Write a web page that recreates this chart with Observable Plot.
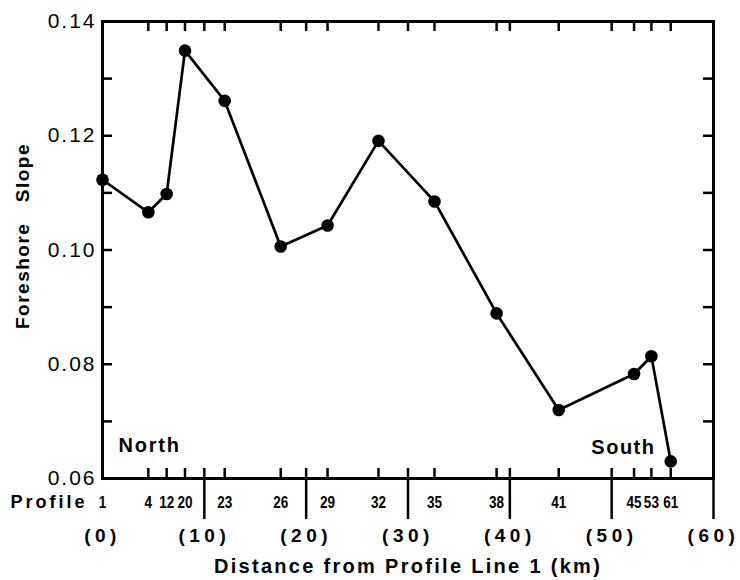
<!DOCTYPE html>
<html><head><meta charset="utf-8">
<script src="https://cdn.jsdelivr.net/npm/d3@7"></script>
<script src="https://cdn.jsdelivr.net/npm/@observablehq/plot@0.6"></script>
<style>
body{margin:0;background:#fff}
</style></head><body><div id="chart"></div>
<script>
// Data
const profiles = ["1","4","12","20","23","26","29","32","35","38","41","45","53","61"];
const distanceKm = [0,4.5,6.3,8.1,12.0,17.5,22.1,27.1,32.6,38.7,44.8,52.2,53.9,55.8];
const slope = [0.1123,0.1066,0.1098,0.1349,0.1261,0.1006,0.1043,0.1191,0.1085,0.0889,0.0720,0.0783,0.0814,0.0630];
const yLabelTicks = [0.06,0.08,0.10,0.12,0.14];
const yMinorTicks = [0.07,0.08,0.09,0.10,0.11,0.12,0.13];
const kmTicks = [0,10,20,30,40,50,60];
const kmLabels = ["(0)","(10)","(20)","(30)","(40)","(50)","(60)"];

const data = profiles.map((p,i)=>({profile:p, km:distanceKm[i], slope:slope[i]}));

const W=740,H=580,ML=102,MR=27,MT=21,MB=102;
const innerW=W-ML-MR, innerH=H-MT-MB, tickLen=10;
const insideX = [...distanceKm.slice(1), ...kmTicks.slice(1,6)];
const BOLD = "'Liberation Sans',Arial,sans-serif";
const REG = "'Liberation Sans','DejaVu Sans',sans-serif";

const chart = Plot.plot({
  width:W, height:H, marginLeft:ML, marginRight:MR, marginTop:MT, marginBottom:MB,
  x:{domain:[0,60], axis:null},
  y:{domain:[0.06,0.14], axis:null},
  style:{fontFamily:BOLD, color:"black", background:"white", overflow:"visible"},
  marks:[
    Plot.tickY(yMinorTicks,{y:d=>d, insetRight:innerW-tickLen, strokeWidth:2.5}),
    Plot.tickY(yMinorTicks,{y:d=>d, insetLeft:innerW-tickLen, strokeWidth:2.5}),
    Plot.tickX(insideX,{x:d=>d, insetTop:innerH-tickLen, strokeWidth:2.5}),
    Plot.tickX(insideX,{x:d=>d, insetBottom:innerH-tickLen, strokeWidth:2.5}),
    Plot.tickX(kmTicks.slice(1),{x:d=>d, insetTop:innerH, insetBottom:-41, strokeWidth:2.5}),
    Plot.frame({stroke:"black", strokeWidth:3}),
    Plot.line(data,{x:"km", y:"slope", stroke:"black", strokeWidth:2.7}),
    Plot.dot(data,{x:"km", y:"slope", r:6.3, fill:"black"}),
    // y tick labels
    Plot.text(yLabelTicks,{y:d=>d, text:d=>d3.format(".2f")(d), frameAnchor:"left", textAnchor:"end", lineAnchor:"middle", dx:-6, fontSize:21, fontFamily:REG}),
    // profile labels
    Plot.text(data,{x:"km", text:"profile", frameAnchor:"bottom", lineAnchor:"middle", dy:24, fontSize:16.5, fontWeight:"bold"}),
    Plot.text(["Profile"],{frameAnchor:"bottom-left", textAnchor:"end", lineAnchor:"middle", dx:-15, dy:24, fontSize:18, fontWeight:"bold"}),
    // km labels
    Plot.text(kmTicks,{x:d=>d, text:(d,i)=>kmLabels[i], frameAnchor:"bottom", lineAnchor:"middle", dy:57, fontSize:19, fontWeight:"bold"}),
    // axis titles
    Plot.text(["Distance from Profile Line 1 (km)"],{frameAnchor:"bottom", lineAnchor:"middle", dy:88, fontSize:20, fontWeight:"bold"}),
    Plot.text(["Foreshore\u00a0\u00a0\u00a0Slope"],{frameAnchor:"left", textAnchor:"middle", lineAnchor:"middle", dx:-80, dy:-14, rotate:-90, fontSize:19, fontWeight:"bold"}),
    // annotations
    Plot.text(["North"],{frameAnchor:"bottom-left", textAnchor:"start", lineAnchor:"middle", dx:16, dy:-33, fontSize:20, fontWeight:"bold"}),
    Plot.text(["South"],{frameAnchor:"bottom-right", textAnchor:"end", lineAnchor:"middle", dx:-58, dy:-31, fontSize:20, fontWeight:"bold"})
  ]
});
document.getElementById("chart").append(chart);
// letter spacing per text mark, in mark order
const spacing = ["2px","0px","3px","4.5px","2.3px","1.5px","1.8px","1.5px"];
const groups = chart.querySelectorAll('g[aria-label="text"]');
groups.forEach((g,i)=>{ g.style.letterSpacing = spacing[i] || "0px"; });
// condensed lettering for the crowded profile numbers
groups[1].querySelectorAll("text").forEach(t=>{
  t.setAttribute("transform", (t.getAttribute("transform")||"") + " scale(0.82,1)");
});
</script>
</body></html>
